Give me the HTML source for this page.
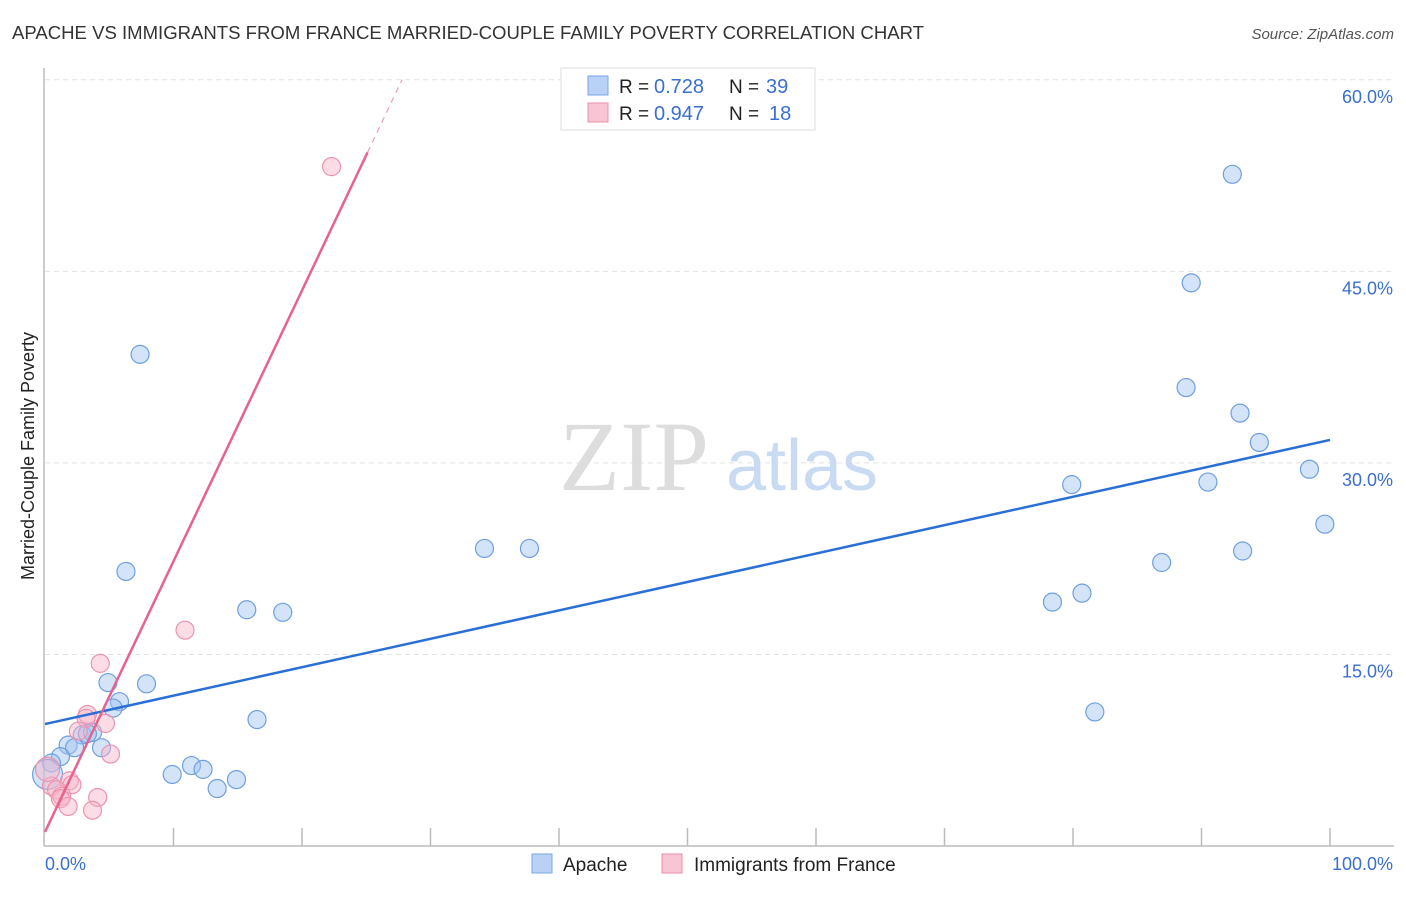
<!DOCTYPE html>
<html><head><meta charset="utf-8"><style>
body{margin:0;background:#fff;font-family:"Liberation Sans",sans-serif}
</style></head><body>
<svg width="1406" height="892" viewBox="0 0 1406 892" xmlns="http://www.w3.org/2000/svg">
<text x="12" y="39" font-size="18" fill="#333" textLength="912" lengthAdjust="spacingAndGlyphs">APACHE VS IMMIGRANTS FROM FRANCE MARRIED-COUPLE FAMILY POVERTY CORRELATION CHART</text>
<text x="1394" y="39" font-size="15" fill="#555" font-style="italic" text-anchor="end">Source: ZipAtlas.com</text>
<g id="grid"></g>
<text x="634" y="490" font-size="100" fill="#ddd" font-family="Liberation Serif,serif" text-anchor="middle">ZIP</text>
<text x="802" y="490" font-size="72" fill="#c9daf3" text-anchor="middle">atlas</text>
<line x1="44" y1="68" x2="44" y2="846" stroke="#bbb" stroke-width="1.5"/>
<line x1="44" y1="846" x2="1394" y2="846" stroke="#bbb" stroke-width="1.5"/>
<g id="ticks"></g>
<g id="pts"></g>
<g id="lines"></g>
<text transform="translate(34,456) rotate(-90)" font-size="18" fill="#222" text-anchor="middle">Married-Couple Family Poverty</text>
<text x="45" y="870" font-size="18" fill="#3a6fd1">0.0%</text>
<text x="1393" y="870" font-size="18" fill="#3a6fd1" text-anchor="end">100.0%</text>
<g>
<rect x="561" y="68" width="254" height="62" fill="#fff" stroke="#ddd"/>
<rect x="588" y="76" width="20" height="19" fill="#b8d1f5" stroke="#7aa5e6"/>
<rect x="588" y="103" width="20" height="19" fill="#f9c4d3" stroke="#eb8fab"/>
<text x="619" y="93" font-size="19" fill="#222">R =</text>
<text x="654" y="93" font-size="20" fill="#3a6fd1">0.728</text>
<text x="729" y="93" font-size="19" fill="#222">N =</text>
<text x="766" y="93" font-size="20" fill="#3a6fd1">39</text>
<text x="619" y="120" font-size="19" fill="#222">R =</text>
<text x="654" y="120" font-size="20" fill="#3a6fd1">0.947</text>
<text x="729" y="120" font-size="19" fill="#222">N =</text>
<text x="769" y="120" font-size="20" fill="#3a6fd1">18</text>
</g>
<g>
<rect x="532" y="854" width="20" height="19" fill="#b8d1f5" stroke="#7aa5e6"/>
<text x="563" y="871" font-size="19" fill="#222">Apache</text>
<rect x="662" y="854" width="20" height="19" fill="#f9c4d3" stroke="#eb8fab"/>
<text x="694" y="871" font-size="19" fill="#222">Immigrants from France</text>
</g>
</svg>
<script>
const yTicks=[15,30,45,60];
const yTickLabels=["15.0%","30.0%","45.0%","60.0%"];
const xTicks=[10,20,30,40,50,60,70,80,90,100];
const apacheX=[7.4,6.3,4.9,7.9,5.8,5.3,2.9,3.7,1.8,2.3,4.4,1.2,0.5,0.2,9.9,11.4,12.3,13.4,14.9,16.5,15.7,18.5,34.2,37.7,78.4,80.7,81.7,79.9,86.9,88.8,89.2,90.5,92.4,93.0,93.2,94.5,98.4,99.6,3.3];
const apacheY=[38.5,21.5,12.8,12.7,11.3,10.8,8.7,8.9,7.9,7.7,7.7,7.0,6.5,5.6,5.6,6.3,6.0,4.5,5.2,9.9,18.5,18.3,23.3,23.3,19.1,19.8,10.5,28.3,22.2,35.9,44.1,28.5,52.6,33.9,23.1,31.6,29.5,25.2,8.8];
const franceX=[22.3,10.9,4.3,3.3,3.2,4.7,5.1,2.6,1.9,2.1,0.5,0.9,1.3,1.2,1.8,4.1,3.7,0.2];
const franceY=[53.2,16.9,14.3,10.3,10.0,9.6,7.2,9.0,5.1,4.8,4.7,4.4,3.9,3.7,3.1,3.8,2.8,6.0];
const apacheTrend=[9.55,31.8];
const franceTrend=[1.1,2.12];
const X=v=>45+v*12.85, Y=v=>846-v*12.77;
const NS="http://www.w3.org/2000/svg";
function mk(tag,attrs,parent){const e=document.createElementNS(NS,tag);for(const k in attrs)e.setAttribute(k,attrs[k]);document.getElementById(parent).appendChild(e);return e;}
yTicks.forEach((t,i)=>{
 const l=mk('line',{x1:45,x2:1394,y1:Y(t),y2:Y(t),stroke:'#e2e2e2','stroke-dasharray':'5,4'},'grid');
 
 
 const tx=mk('text',{x:1393,y:Y(t)+23,'font-size':18,fill:'#3a6fd1','text-anchor':'end'},'grid');
 tx.textContent=yTickLabels[i];
 
 
});
xTicks.forEach(t=>{
 const l=mk('line',{x1:X(t),x2:X(t),y1:828,y2:846,stroke:'#bbb','stroke-width':1.5},'ticks');
 
 
});
apacheX.forEach((v,i)=>{
 const c=mk('circle',{cx:X(v),cy:Y(apacheY[i]),r:(i==13?15:9),fill:'rgba(160,195,240,0.45)',stroke:'#6f9fe0','stroke-width':1.2},'pts');
 
 
});
franceX.forEach((v,i)=>{
 const c=mk('circle',{cx:X(v),cy:Y(franceY[i]),r:(i==17?12:9),fill:'rgba(248,180,200,0.45)',stroke:'#ec93ae','stroke-width':1.2},'pts');
 
 
});
let bl=mk('line',{x1:X(0),y1:Y(apacheTrend[0]),x2:X(100),y2:Y(apacheTrend[1]),stroke:'#2a6fd6','stroke-width':2.5},'lines');


const fx1=25.1, fx2=(60-franceTrend[0])/franceTrend[1];
let pl=mk('line',{x1:X(0),y1:Y(franceTrend[0]),x2:X(fx1),y2:Y(franceTrend[0]+franceTrend[1]*fx1),stroke:'#e5638e','stroke-width':2.5},'lines');


let pd=mk('line',{x1:X(fx1),y1:Y(franceTrend[0]+franceTrend[1]*fx1),x2:X(fx2),y2:Y(60),stroke:'#eba0b8','stroke-width':1.2,'stroke-dasharray':'6,5'},'lines');


</script>
</body></html>
